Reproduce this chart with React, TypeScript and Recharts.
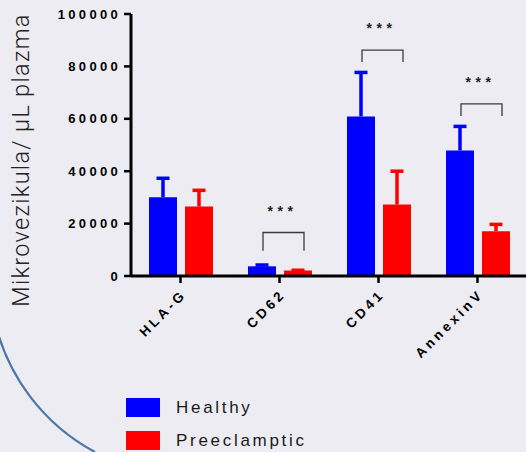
import React from 'react';
import { BarChart, Bar, XAxis, YAxis, LabelList, Legend } from 'recharts';

const categories = ['HLA-G', 'CD62', 'CD41', 'AnnexinV'];
const healthy = [30100, 3700, 60900, 47900];
const healthySd = [7200, 500, 16800, 9200];
const preeclamptic = [26500, 2100, 27300, 17100];
const preeclampticSd = [6200, 100, 12700, 2600];
// significance brackets [leg end, top] per category, null = no bracket
const brackets: ([number, number] | null)[] = [null, [9600, 16600], [81700, 86200], [61100, 65700]];
const stars = ['', '***', '***', '***'];
const yTicks = [0, 20000, 40000, 60000, 80000, 100000];

const data = categories.map((name, i) => ({
  name,
  healthy: healthy[i],
  preeclamptic: preeclamptic[i],
}));

const BAR_SIZE = 28;
const BAR_GAP = 8;
const FONT = '"Liberation Sans", Arial, sans-serif';

// one-sided SD bar drawn on top of each bar, scaled with the bar's own px/unit
const makeErrLabel = (values: number[], sds: number[], color: string) => (props: any) => {
  const { x, y, width, height, value, index } = props;
  const i = typeof index === 'number' ? index : values.indexOf(value);
  if (!height || !value) return null;
  const k = Number(height) / Number(value);
  const top = Number(y) - sds[i] * k;
  const cx = Number(x) + Number(width) / 2;
  return (
    <g>
      <line x1={cx} x2={cx} y1={Number(y)} y2={top} stroke={color} strokeWidth={3.5} />
      <line x1={cx - 6.5} x2={cx + 6.5} y1={top} y2={top} stroke={color} strokeWidth={3.5} />
    </g>
  );
};

const HealthyErr = makeErrLabel(healthy, healthySd, '#0000FF');
const PreErr = makeErrLabel(preeclamptic, preeclampticSd, '#FF0000');

const BracketLabel = (props: any) => {
  const { x, y, width, height, value, index } = props;
  const i = typeof index === 'number' ? index : healthy.indexOf(value);
  const b = brackets[i];
  if (!b || !height || !value) return null;
  const base = Number(y) + Number(height);
  const k = Number(height) / Number(value);
  const yTop = base - b[1] * k;
  const yLeg = base - b[0] * k;
  const x1 = Number(x) + Number(width) / 2 + 1;
  const x2 = Number(x) + Number(width) * 1.5 + BAR_GAP + 6;
  const cx = (x1 + x2) / 2 - 1;
  return (
    <g>
      <polyline
        points={`${x1},${yLeg} ${x1},${yTop} ${x2},${yTop} ${x2},${yLeg}`}
        fill="none"
        stroke="#3a3a3a"
        strokeWidth={1.3}
      />
      <text x={cx} y={yTop - 17} textAnchor="middle" fontFamily={FONT} fontSize={14} fontWeight="bold" letterSpacing={4.5} fill="#222">
        {stars[i]}
      </text>
    </g>
  );
};

const XTick = ({ x, y, payload }: any) => (
  <g transform={`translate(${x + 7},${y + 10})`}>
    <text x={0} y={0} transform="rotate(-45)" textAnchor="end" fontFamily={FONT} fontSize={13.5} fontWeight="bold" letterSpacing={3.5} fill="#000">
      {payload.value}
    </text>
  </g>
);

const LegendContent = ({ payload }: any) => (
  <div>
    {(payload || []).map((p: any) => (
      <div key={p.value} style={{ display: 'flex', alignItems: 'center', height: 33 }}>
        <div style={{ width: 34, height: 19, background: p.color }} />
        <span style={{ marginLeft: 16, fontFamily: FONT, fontSize: 17, letterSpacing: 2.7, color: '#1a1a1a' }}>{p.value}</span>
      </div>
    ))}
  </div>
);

export default function App() {
  return (
    <div style={{ position: 'absolute', left: 0, top: 0, width: 526, height: 452, background: '#EDECF2', overflow: 'hidden' }}>
      <svg width={526} height={452} style={{ position: 'absolute', left: 0, top: 0 }}>
        <path d="M -6 318 A 200 200 0 0 0 95 452" fill="none" stroke="#4a78a8" strokeWidth={2.2} />
      </svg>
      <div style={{ position: 'absolute', left: 0, top: 0 }}>
        <BarChart
          width={527}
          height={452}
          data={data}
          margin={{ top: 14, right: 0, left: 0, bottom: 0 }}
          barSize={BAR_SIZE}
          barGap={BAR_GAP}
        >
          <XAxis
            dataKey="name"
            height={176}
            axisLine={{ stroke: '#000', strokeWidth: 3 }}
            tickLine={{ stroke: '#000', strokeWidth: 2.5 }}
            tickSize={7}
            tick={<XTick />}
            interval={0}
          />
          <YAxis
            width={131}
            domain={[0, 100000]}
            ticks={yTicks}
            axisLine={{ stroke: '#000', strokeWidth: 3 }}
            tickLine={{ stroke: '#000', strokeWidth: 2.5 }}
            tickSize={7}
            tickMargin={3}
            tick={{ fill: '#000', fontSize: 13, fontWeight: 'bold', letterSpacing: 3.3, fontFamily: FONT }}
            label={{
              content: () => (
                <text x={29} y={160} transform="rotate(-90 29 160)" textAnchor="middle" fontFamily="Roboto, sans-serif" fontWeight={300} fontSize={23.5} letterSpacing={1.3} fill="#222">
                  Mikrovezikula/ µL plazma
                </text>
              ),
            }}
          />
          <Legend
            layout="vertical"
            align="center"
            verticalAlign="middle"
            wrapperStyle={{ left: 126, top: 391, width: 'auto' }}
            content={<LegendContent />}
          />
          <Bar dataKey="healthy" name="Healthy" fill="#0000FF" isAnimationActive={false}>
            <LabelList dataKey="healthy" content={<HealthyErr />} />
            <LabelList dataKey="healthy" content={<BracketLabel />} />
          </Bar>
          <Bar dataKey="preeclamptic" name="Preeclamptic" fill="#FF0000" isAnimationActive={false}>
            <LabelList dataKey="preeclamptic" content={<PreErr />} />
          </Bar>
        </BarChart>
      </div>
    </div>
  );
}
